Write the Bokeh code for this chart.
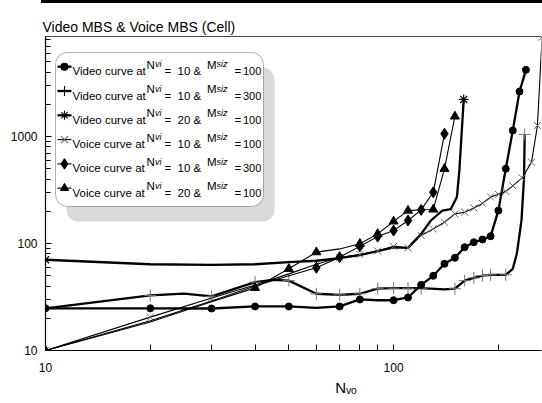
import math
from bokeh.plotting import figure
from bokeh.models import Label, BoxAnnotation, FixedTicker, PrintfTickFormatter, LogAxis, Div
from bokeh.layouts import column
from bokeh.embed import file_html
from bokeh.resources import INLINE

# ---------------- data ----------------
# Video curve at Nvi=10 & Msiz=100 (filled circles)
vid10_100_x = [10, 20, 30, 40, 50, 60, 70, 80, 90, 100, 110, 120, 130, 140, 150, 160, 170, 180, 190, 200, 210, 220, 230, 240]
vid10_100_y = [24.8, 24.8, 24.7, 25.8, 25.8, 25.0, 25.8, 30, 29.5, 29.5, 31.3, 41.1, 49.9, 64.6, 73.5, 92.3, 102.7, 109, 117, 203, 499, 1137, 2630, 4200]
vid10_100_marks = [10, 20, 30, 40, 50, 70, 80, 100, 110, 120, 130, 140, 150, 160, 170, 180, 190, 200, 210, 220, 230, 240]

# Video curve at Nvi=10 & Msiz=300 (plus)
vid10_300_x = [10, 20, 25, 30, 40, 45, 50, 60, 70, 80, 90, 100, 110, 120, 140, 150, 160, 170, 180, 190, 210, 220, 226, 233, 237, 238]
vid10_300_y = [24.8, 32.7, 34, 32, 43.5, 45.7, 45, 33.9, 33.1, 33.9, 37.8, 38.2, 38.2, 38.2, 37.2, 37.8, 45, 47.7, 50.2, 51, 51, 58, 80.5, 164, 414, 1045]
vid10_300_marks = [20, 30, 40, 50, 60, 70, 80, 90, 100, 110, 120, 150, 160, 170, 180, 190, 210, 238]

# Video curve at Nvi=20 & Msiz=100 (asterisk)
vid20_100_x = [10, 20, 30, 40, 50, 60, 70, 80, 90, 100, 110, 120, 128, 138, 146, 152, 154.5, 159]
vid20_100_y = [70.5, 64, 63, 64, 67, 69, 73, 78, 85, 92, 91, 123, 164, 203, 210, 272, 480, 2220]
vid20_100_marks = [10, 159]

# Voice curve at Nvi=10 & Msiz=100 (x)
voi10_100_x = [10, 20, 30, 40, 50, 60, 70, 80, 90, 100, 110, 120, 130, 140, 150, 160, 170, 180, 190, 200, 210, 220, 234, 249, 259, 267]
voi10_100_y = [10, 20.5, 31, 41, 52, 64, 74, 79, 85, 94, 91, 119, 137, 158, 189, 196, 215, 237, 272, 288, 307, 346, 410, 575, 1268, 8500]
voi10_100_marks = [10, 20, 30, 60, 70, 80, 90, 100, 110, 120, 130, 140, 150, 160, 170, 180, 190, 200, 210, 220, 234, 249, 259, 267]

# Voice curve at Nvi=10 & Msiz=300 (diamond)
voi10_300_x = [10, 20, 30, 40, 50, 60, 70, 80, 90, 100, 110, 120, 130, 140]
voi10_300_y = [10, 19, 29, 40, 50, 59.3, 74.5, 94, 116, 132, 164, 206, 301, 1060]
voi10_300_marks = [60, 70, 80, 90, 100, 110, 120, 130, 140]

# Voice curve at Nvi=20 & Msiz=100 (triangle)
voi20_100_x = [10, 20, 30, 40, 50, 60, 70, 80, 90, 100, 110, 120, 130, 140, 150]
voi20_100_y = [10, 18.5, 28.5, 38.5, 58, 83, 89, 99.4, 123, 161, 203, 207, 208, 499, 1540]
voi20_100_marks = [10, 40, 50, 60, 80, 90, 100, 110, 130, 140, 150]

x_major = [10, 100]
x_minor = [20, 30, 40, 50, 60, 70, 80, 90, 200]
y_major = [10, 100, 1000]
y_minor = [20, 30, 40, 50, 60, 70, 80, 90, 200, 300, 400, 500, 600, 700, 800, 900,
           2000, 3000, 4000, 5000, 6000, 7000, 8000]

legend_rows = [
    ("Video curve at", "10", "100"),
    ("Video curve at", "10", "300"),
    ("Video curve at", "20", "100"),
    ("Voice curve at", "10", "100"),
    ("Voice curve at", "10", "300"),
    ("Voice curve at", "20", "100"),
]

title_text = "Video MBS & Voice MBS (Cell)"
x_label = "N\u1d65\u2092"

# ---------------- layout ----------------
W, H = 542, 403
TOPBAR = 3
FIG_H = H - TOPBAR
FL, FR, FT, FB = 45, 541, 36, 350      # frame edges in page pixels
X0, X1 = 10, 266
Y0, Y1 = 10, 8600
FONT = "Liberation Sans"

def px2x(px):
    return 10 ** (math.log10(X0) + (px - FL) / (FR - FL) * math.log10(X1 / X0))

def py2y(py):
    return 10 ** (math.log10(Y0) + (FB - py) / (FB - FT) * math.log10(Y1 / Y0))

p = figure(width=W, height=FIG_H, x_axis_type="log", y_axis_type="log",
           x_range=(X0, X1), y_range=(Y0, Y1),
           output_backend="svg", toolbar_location=None,
           min_border_left=FL, min_border_right=W - FR,
           min_border_top=FT - TOPBAR, min_border_bottom=H - FB, margin=0)
p.grid.visible = False
p.outline_line_color = None
p.background_fill_color = "white"
p.border_fill_color = "white"

p.title.text = title_text
p.title.text_font = FONT
p.title.text_font_size = "14px"
p.title.text_font_style = "normal"
p.title.text_color = "black"
p.title.align = "left"
p.title.offset = -3
p.title.standoff = 3

for ax in (p.xaxis[0], p.yaxis[0]):
    ax.axis_line_color = "black"
    ax.axis_line_width = 1.2
    ax.major_tick_line_color = "black"
    ax.minor_tick_line_color = "black"
    ax.major_tick_out = 0
    ax.minor_tick_out = 0
    ax.major_label_text_font = FONT
    ax.major_label_text_font_size = "12px"
    ax.major_label_text_color = "black"
    ax.formatter = PrintfTickFormatter(format="%d")

p.xaxis.ticker = FixedTicker(ticks=x_major, minor_ticks=x_minor)
p.yaxis.ticker = FixedTicker(ticks=y_major, minor_ticks=y_minor)
p.xaxis.major_tick_in = 6
p.xaxis.minor_tick_in = 6
p.yaxis.major_tick_in = 6
p.yaxis.minor_tick_in = 5
p.xaxis.major_label_standoff = 12
p.yaxis.major_label_standoff = 8
# em spaces push the centred label to the right, where the reference has it
p.xaxis.axis_label = "\u2003" * 7 + x_label
p.xaxis.axis_label_text_font = FONT
p.xaxis.axis_label_text_font_size = "15px"
p.xaxis.axis_label_text_font_style = "normal"
p.xaxis.axis_label_text_color = "black"
p.xaxis.axis_label_standoff = 4

top_axis = LogAxis(ticker=FixedTicker(ticks=[]), axis_line_color="#444444", axis_line_width=1,
                   major_tick_line_color=None, minor_tick_line_color=None,
                   major_label_text_font_size="0px", major_tick_in=0, major_tick_out=0,
                   minor_tick_in=0, minor_tick_out=0, major_label_standoff=0)
p.add_layout(top_axis, "above")

def marks_y(xs, ys, marks):
    return [ys[xs.index(m)] for m in marks]

THICK, THIN = 2.3, 1.1
p.line(vid10_300_x, vid10_300_y, line_width=THICK, color="black")
p.scatter(vid10_300_marks, marks_y(vid10_300_x, vid10_300_y, vid10_300_marks),
          marker="cross", size=12, line_color="#777777", line_width=1)
p.line(vid10_100_x, vid10_100_y, line_width=THICK, color="black")
p.scatter(vid10_100_marks, marks_y(vid10_100_x, vid10_100_y, vid10_100_marks),
          marker="circle", size=7, color="black")
p.line(vid20_100_x, vid20_100_y, line_width=THICK, color="black")
p.scatter(vid20_100_marks, marks_y(vid20_100_x, vid20_100_y, vid20_100_marks),
          marker="asterisk", size=10, line_color="black", line_width=1.2)
p.line(voi10_100_x, voi10_100_y, line_width=THIN, color="black")
p.scatter(voi10_100_marks, marks_y(voi10_100_x, voi10_100_y, voi10_100_marks),
          marker="x", size=10, line_color="#666666", line_width=1)
p.line(voi10_300_x, voi10_300_y, line_width=THIN, color="black")
p.scatter(voi10_300_marks, marks_y(voi10_300_x, voi10_300_y, voi10_300_marks),
          marker="diamond", size=11, color="black")
p.line(voi20_100_x, voi20_100_y, line_width=THIN, color="black")
p.scatter(voi20_100_marks, marks_y(voi20_100_x, voi20_100_y, voi20_100_marks),
          marker="triangle", size=9, color="black")

# legend box with shadow
p.add_layout(BoxAnnotation(left=px2x(66), right=px2x(274), top=py2y(67), bottom=py2y(221),
                           fill_color="#d9d9d9", fill_alpha=1, line_color=None, border_radius=12))
p.add_layout(BoxAnnotation(left=px2x(55), right=px2x(263), top=py2y(52), bottom=py2y(206),
                           fill_color="white", fill_alpha=1, line_color="black", line_width=1,
                           border_radius=12))

row_styles = [
    dict(lw=THICK, marker="circle", size=7, lc="black", fill="black"),
    dict(lw=THICK, marker="cross", size=10, lc="black", fill=None),
    dict(lw=THICK, marker="asterisk", size=9, lc="black", fill=None),
    dict(lw=THIN, marker="x", size=10, lc="#666666", fill=None),
    dict(lw=THIN, marker="diamond", size=10, lc="black", fill="black"),
    dict(lw=THIN, marker="triangle", size=8, lc="black", fill="black"),
]

def screen_label(px, py, text, size, style="normal"):
    p.add_layout(Label(x=px - FL, y=FB - py, x_units="screen", y_units="screen",
                       text=text, text_font=FONT, text_font_size=size, text_font_style=style,
                       text_color="black", text_align="left", text_baseline="alphabetic"))

for i, (lead, nvi, msiz) in enumerate(legend_rows):
    base = 70.7 + 24.3 * i
    cy = base - 4.5
    st = row_styles[i]
    r = p.line([px2x(57), px2x(71)], [py2y(cy), py2y(cy)], line_width=st["lw"], color="black")
    r.level = "overlay"
    r = p.scatter([px2x(64)], [py2y(cy)], marker=st["marker"], size=st["size"],
                  line_color=st["lc"], line_width=1.1, fill_color=st["fill"])
    r.level = "overlay"
    screen_label(72, base, lead, "11.5px")
    screen_label(146, base - 6.5, "N", "11.5px")
    screen_label(154.5, base - 6.8, "vi", "9px", "italic")
    screen_label(164, base, "=", "11.5px")
    screen_label(177, base, nvi, "11.5px")
    screen_label(193, base, "&", "11.5px")
    screen_label(206.5, base - 6.5, "M", "11.5px")
    screen_label(216, base - 6.8, "siz", "9px", "italic")
    screen_label(234, base, "=", "11.5px")
    screen_label(242.5, base, msiz, "11px")

# page border artefact at the very top of the picture
bar = Div(text="", width=W - 41, height=TOPBAR, margin=(0, 0, 0, 41),
          styles={"background-color": "#000000"})

layout = column(bar, p, spacing=0, margin=0)
open("out.html", "w").write(file_html(layout, INLINE))
